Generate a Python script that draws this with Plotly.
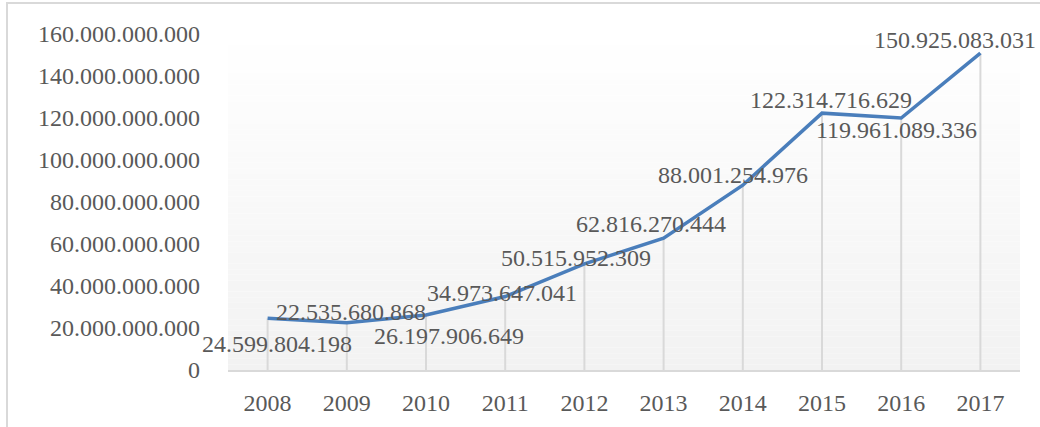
import plotly.graph_objects as go

years = ["2008", "2009", "2010", "2011", "2012", "2013", "2014", "2015", "2016", "2017"]
values = [24599804198, 22535680868, 26197906649, 34973647041, 50515952309,
          62816270444, 88001254976, 122314716629, 119961089336, 150925083031]
y_ticks = [0, 20e9, 40e9, 60e9, 80e9, 100e9, 120e9, 140e9, 160e9]

# label offsets (pixels) relative to each point
label_dx = [9, 4, 23, -3, -8, -13, -10, 9, -5, -25]
label_dy = [-26, 11, -21, 4, 6, 14, 10, 13, -12, 13]

FONT = "Liberation Serif"
TXT = "#595959"
GRID = "#d9d9d9"

L, R, T, B = 228, 20, 34, 57
W, H = 1040, 427
pw, ph = W - L - R, H - T - B

fig = go.Figure()

# drop lines from each point to the axis
fig.add_trace(go.Scatter(
    x=years, y=values, mode="markers",
    marker=dict(size=1, opacity=0),
    error_y=dict(type="data", symmetric=False, array=[0] * len(values),
                 arrayminus=values, width=0, thickness=2, color=GRID),
    hoverinfo="skip", showlegend=False))

fig.add_trace(go.Scatter(
    x=years, y=values, mode="lines",
    line=dict(color="#4a7ebb", width=3.5),
    showlegend=False))

annotations = []
for i, (yr, v, dx, dy) in enumerate(zip(years, values, label_dx, label_dy)):
    annotations.append(dict(
        x=i, y=v, xref="x", yref="y",
        text=f"{v:,}".replace(",", "."),
        showarrow=False, xshift=dx, yshift=dy,
        font=dict(family=FONT, size=24, color=TXT)))

shapes = []
n = 60
for i in range(n):
    t = (i + 0.5) / n  # 0 at top -> 1 at bottom
    c = round(255 - (255 - 242) * t)
    shapes.append(dict(type="rect", xref="paper", yref="paper",
                       x0=0, x1=1, y0=1 - (i + 1) / n, y1=1 - i / n,
                       fillcolor=f"rgb({c},{c},{c})", line=dict(width=0),
                       layer="below"))
# outer chart border
shapes.append(dict(type="rect", xref="paper", yref="paper",
                   x0=(7 - L) / pw, x1=(W + 5 - L) / pw,
                   y0=(H - B - (H + 5)) / ph, y1=(H - B - 3) / ph,
                   line=dict(color=GRID, width=2), fillcolor="rgba(0,0,0,0)",
                   layer="below"))

fig.update_layout(
    width=W, height=H,
    margin=dict(l=L, r=R, t=T, b=B),
    paper_bgcolor="white", plot_bgcolor="white",
    separators=",.",
    font=dict(family=FONT, size=24, color=TXT),
    annotations=annotations, shapes=shapes,
    xaxis=dict(type="category", range=[-0.5, 9.5], showgrid=False,
               showline=True, linecolor=GRID, linewidth=2, automargin=False,
               ticks="", ticklabelstandoff=10,
               tickfont=dict(family=FONT, size=24, color=TXT)),
    yaxis=dict(range=[0, 160e9], tickvals=y_ticks, tickformat=",d",
               showgrid=False, zeroline=False, showline=False, automargin=False,
               ticks="", ticklabelstandoff=27,
               tickfont=dict(family=FONT, size=24, color=TXT)),
)

fig.write_html("out.html")
